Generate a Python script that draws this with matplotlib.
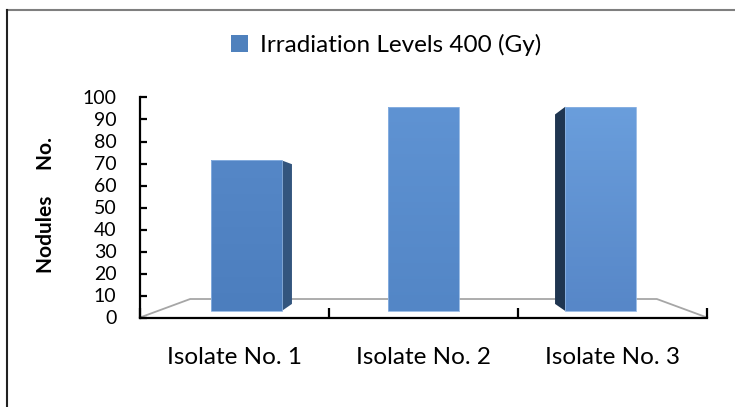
import matplotlib.pyplot as plt
import numpy as np
from matplotlib.lines import Line2D
from matplotlib.patches import Patch, Polygon

# data
categories = ['Isolate No. 1', 'Isolate No. 2', 'Isolate No. 3']
nodules = [73, 99, 99]
series_name = 'Irradiation Levels 400 (Gy)'
y_ticks = list(range(0, 101, 10))

# fake excel 3d look: vanishing point + depth factors
VX, VY = 1.5, 47.5
F_FLOOR = 0.823
F_FRONT, F_BACK = 0.938, 0.87
BAR_W = 0.40

face_bottom = ['#4C7EBE', '#5386C6', '#5787C8']
face_top = ['#5587C7', '#5F93D3', '#6A9EDC']
side_col = ['#33557E', '#2A4A70', '#1F3550']


def proj(x, y, f):
    return VX + (x - VX) * f, VY + (y - VY) * f


plt.rcParams['font.family'] = ['Lato', 'DejaVu Sans']

fig = plt.figure(figsize=(7.35, 4.07), dpi=100)
ax = fig.add_axes([140 / 735, 1 - 317.5 / 407, 567 / 735, 220 / 407])

# floor (left, back, right edges)
n = len(categories)
fx = [proj(0, 0, 1)[0], proj(0, 0, F_FLOOR)[0], proj(n, 0, F_FLOOR)[0], proj(n, 0, 1)[0]]
fy = [proj(0, 0, 1)[1], proj(0, 0, F_FLOOR)[1], proj(n, 0, F_FLOOR)[1], proj(n, 0, 1)[1]]
ax.plot(fx, fy, color='#A6A6A6', lw=1.3, zorder=1, clip_on=False)

for i, v in enumerate(nodules):
    x0 = i + 0.5 - BAR_W / 2
    x1 = i + 0.5 + BAR_W / 2
    # side face
    if i + 0.5 < VX:
        ex = x1
    elif i + 0.5 > VX:
        ex = x0
    else:
        ex = None
    if ex is not None:
        pts = [proj(ex, 0, F_FRONT), proj(ex, v, F_FRONT), proj(ex, v, F_BACK), proj(ex, 0, F_BACK)]
        ax.add_patch(Polygon(pts, closed=True, facecolor=side_col[i], edgecolor='none', zorder=2))
    # front face with a soft gradient
    p0 = proj(x0, 0, F_FRONT)
    p1 = proj(x1, v, F_FRONT)
    face = Polygon([p0, (p1[0], p0[1]), p1, (p0[0], p1[1])], closed=True,
                   facecolor='none', edgecolor='#8DB3E2', lw=0.6, zorder=4)
    ax.add_patch(face)
    c0 = np.array(plt.matplotlib.colors.to_rgb(face_bottom[i]))
    c1 = np.array(plt.matplotlib.colors.to_rgb(face_top[i]))
    t = np.linspace(1, 0, 64)[:, None, None]
    grad = c0 * (1 - t) + c1 * t
    im = ax.imshow(grad, extent=[p0[0], p1[0], p0[1], p1[1]], aspect='auto', zorder=3)
    im.set_clip_path(face)

ax.set_xlim(0, n)
ax.set_ylim(0, 100)

for s in ['top', 'right']:
    ax.spines[s].set_visible(False)
ax.spines['left'].set_linewidth(1.6)
ax.spines['bottom'].set_linewidth(1.6)
ax.spines['left'].set_zorder(5)
ax.spines['bottom'].set_zorder(5)

ax.set_yticks(y_ticks)
ax.set_yticklabels([str(t) for t in y_ticks])
ax.tick_params(axis='y', direction='in', length=5, width=1.6, pad=17, labelsize=14, colors='black')

ax.set_xticks(range(n + 1))
ax.set_xticklabels([])
ax.tick_params(axis='x', which='major', direction='in', length=7, width=1.6)
ax.set_xticks([i + 0.5 for i in range(n)], minor=True)
ax.set_xticklabels(categories, minor=True)
ax.tick_params(axis='x', which='minor', length=0, pad=21, labelsize=17.5)

ax.set_ylabel('Nodules     No.', fontsize=15, fontweight='bold')
ax.yaxis.set_label_coords(-0.148, 0.51)

fig.legend(handles=[Patch(facecolor='#4F81BD', edgecolor='none')], labels=[series_name],
           loc='center', bbox_to_anchor=(386 / 735, 1 - 45 / 407), frameon=False,
           fontsize=17.5, handlelength=0.7, handleheight=0.7, handletextpad=0.5)

# chart frame (top and left edges visible)
fig.add_artist(Line2D([7 / 735, 1], [1 - 10 / 407, 1 - 10 / 407], color='#7F7F7F', lw=1.5))
fig.add_artist(Line2D([7 / 735, 7 / 735], [0, 1 - 10 / 407], color='#222222', lw=1.5))

plt.savefig('out.png', dpi=100)
